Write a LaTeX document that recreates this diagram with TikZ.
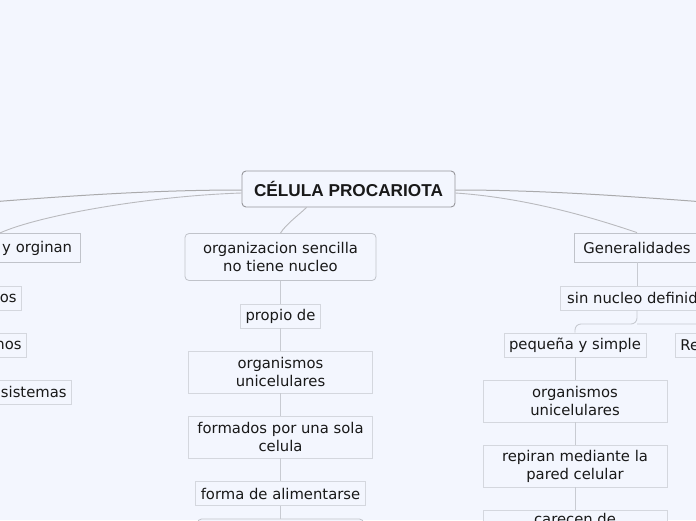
\documentclass[tikz,border=0pt]{standalone}
\usepackage{fontspec}
\setmainfont{DejaVu Sans}
\newfontfamily\titlefont{Liberation Sans}
\definecolor{bg}{RGB}{243,246,254}
\definecolor{txt}{RGB}{25,25,25}
\definecolor{leafline}{RGB}{212,215,222}
\definecolor{midline}{RGB}{192,195,202}
\definecolor{topline}{RGB}{150,150,155}
\definecolor{conn}{RGB}{200,203,210}
\definecolor{curveA}{RGB}{170,170,172}
\definecolor{curveB}{RGB}{185,186,190}
\tikzset{
  base/.style={font=\fontsize{14.8}{18}\selectfont, text=txt, align=center, inner sep=0pt, fill=bg},
  leafbox/.style={base, draw=leafline, line width=0.8pt},
  midbox/.style={base, draw=midline, line width=0.8pt, rounded corners=4pt},
  lvlbox/.style={base, draw=midline, line width=0.8pt},
  rootbox/.style={base, draw=topline, line width=0.9pt, rounded corners=4pt,
     font=\titlefont\bfseries\fontsize{17.2}{20}\selectfont},
  link/.style={draw=conn, line width=0.9pt},
  curveone/.style={draw=curveA, line width=1pt},
  curvetwo/.style={draw=curveB, line width=0.9pt},
}
\begin{document}
\begin{tikzpicture}[x=1pt,y=-1pt]
\useasboundingbox (0,0) rectangle (696,520);
\fill[bg] (0,0) rectangle (696,520);
\clip (0,0) rectangle (696,520);

% root
\node[rootbox, minimum width=213pt, minimum height=36pt] (root) at (348.5,189) {CÉLULA PROCARIOTA};

% left branch (cut off)
\coordinate (lefttop) at (-70,207);
\node[lvlbox, anchor=east, text width=145pt, align=right, inner xsep=8.5pt, minimum height=29pt] (yorg) at (81,248) {y orginan};
\node[leafbox, anchor=east, text width=90pt, align=right, inner xsep=5pt, minimum height=24pt] (los) at (22,298) {os};
\node[leafbox, anchor=east, text width=90pt, align=right, inner xsep=5pt, minimum height=24pt] (lnos) at (27,345) {nos};
\node[leafbox, anchor=east, text width=120pt, align=right, inner xsep=5pt, minimum height=24pt] (lsis) at (72,392) {sistemas};

% centre branch
\node[midbox, minimum width=191pt, minimum height=47pt] (org) at (280.5,257) {organizacion sencilla\\no tiene nucleo};
\node[leafbox, minimum width=80pt, minimum height=24pt] (propio) at (280.5,316) {propio de};
\node[leafbox, minimum width=184pt, minimum height=42pt] (uni) at (280.5,372) {organismos\\unicelulares};
\node[leafbox, minimum width=184pt, minimum height=42pt] (sola) at (280.5,437) {formados por una sola\\celula};
\node[leafbox, minimum width=170pt, minimum height=24pt] (alim) at (280.5,493.5) {forma de alimentarse};
\node[midbox, minimum width=166pt, minimum height=30pt] (nextc) at (280.5,534) {};

% right branch
\coordinate (righttop) at (770,207);
\node[lvlbox, minimum width=126pt, minimum height=29pt] (gen) at (637,247.5) {Generalidades};
\node[leafbox, minimum width=154pt, minimum height=24pt] (sin) at (637,298) {sin nucleo definido};
\node[leafbox, minimum width=142pt, minimum height=24pt] (peq) at (575,345) {pequeña y simple};
\node[leafbox, anchor=west, text width=80pt, align=left, inner xsep=5pt, minimum height=24pt] (re) at (675,345) {Re};
\node[leafbox, minimum width=184pt, minimum height=42pt] (uni2) at (575,401) {organismos\\unicelulares};
\node[leafbox, minimum width=184pt, minimum height=42pt] (rep) at (575,466) {repiran mediante la\\pared celular};
\node[leafbox, minimum width=184pt, minimum height=42pt] (car) at (575,531) {carecen de\\\strut};

% curves from root
\draw[curveone] (root.west) ++(0,1) .. controls (150,190) and (60,196) .. (lefttop);
\draw[curvetwo] ([yshift=-4pt]root.west) .. controls (150,196) and (40,215) .. (yorg.north);
\draw[curveone] (root.east) ++(0,1) .. controls (550,190) and (640,197) .. (righttop);
\draw[curvetwo] ([yshift=-4pt]root.east) .. controls (530,198) and (600,220) .. (gen.north);
\draw[curvetwo] ([xshift=-42pt]root.south) .. controls (300,214) and (286,224) .. (org.north);

% centre tree
\draw[link] (org.south) -- (propio.north);
\draw[link] (propio.south) -- (uni.north);
\draw[link] (uni.south) -- (sola.north);
\draw[link] (sola.south) -- (alim.north);
\draw[link] (alim.south) -- (nextc.north);

% right tree
\draw[link] (gen.south) -- (sin.north);
\draw[link, rounded corners=6pt] (sin.south) -- (sin.south |- 0,324) -- (peq.north |- 0,324) -- (peq.north);
\draw[link, rounded corners=6pt] (sin.south |- 0,324) -- (re.north |- 0,324) -- (re.north);
\draw[link] (peq.south) -- (uni2.north);
\draw[link] (uni2.south) -- (rep.north);
\draw[link] (rep.south) -- (car.north);
\end{tikzpicture}
\end{document}
